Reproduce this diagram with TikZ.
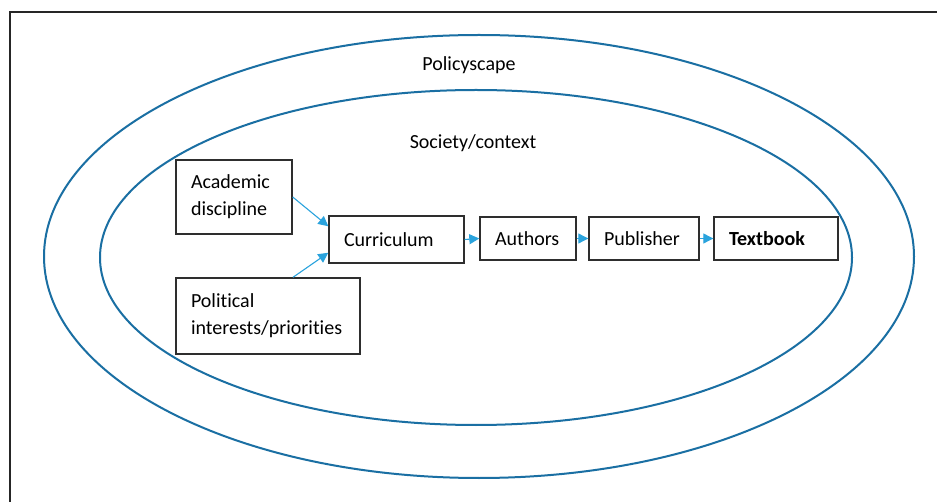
\documentclass[tikz,border=0pt]{standalone}
\usepackage{fontspec}
\setmainfont{Carlito}[Ligatures=NoCommon]
\usetikzlibrary{arrows.meta,calc}
\definecolor{ringblue}{HTML}{1A6FA3}
\definecolor{arrowblue}{HTML}{2AA3DD}
\definecolor{boxgrey}{HTML}{2E2E2E}
\tikzset{
  lbl/.style={font=\fontsize{20}{27}\selectfont},
  stagebox/.style={draw=boxgrey, line width=1.4pt, lbl, align=left,
    inner xsep=15pt, inner ysep=0pt, anchor=center},
  ring/.style={draw=ringblue, line width=2pt},
  flow/.style={draw=arrowblue, line width=1.1pt,
    -{Triangle[length=10pt,width=10pt]}},
}
\begin{document}
\begin{tikzpicture}[x=1pt,y=-1pt]
  \useasboundingbox (0,0) rectangle (937,502);
  \fill[white] (0,0) rectangle (937,502);

  % frame
  \draw[line width=2.6pt, draw=black!85] (10,502) -- (10,12) -- (937,12);

  % nested contexts
  \draw[ring] (479,256.5) ellipse [x radius=435pt, y radius=221.5pt];
  \draw[ring] (476,257.5) ellipse [x radius=376pt, y radius=167.5pt];
  \node[lbl] (policyscape) at (469,65) {Policyscape};
  \node[lbl] (society) at (473,143) {Society/context};

  % stages
  \node[stagebox, text width=86pt, minimum height=74pt] (acad) at (234,197)
    {Academic\\discipline};
  \node[stagebox, text width=154pt, minimum height=76pt] (pol) at (268,316)
    {Political\\interests/priorities};
  \node[stagebox, text width=105pt, minimum height=47pt] (curr) at (396.5,239.5)
    {Curriculum};
  \node[stagebox, text width=66pt, minimum height=43pt] (auth) at (528,238.5)
    {Authors};
  \node[stagebox, text width=80pt, minimum height=43pt] (pub) at (644,238.5)
    {Publisher};
  \node[stagebox, text width=94pt, minimum height=43pt] (book) at (776,238.5)
    {\textbf{Textbook}};

  % flows
  \draw[flow] (acad.east) -- (curr.169);
  \draw[flow] ($(pol.north)+(25,0)$) -- (curr.191);
  \draw[flow] (curr.east) -- (auth.west);
  \draw[flow] (auth.east) -- (pub.west);
  \draw[flow] (pub.east) -- (book.west);
\end{tikzpicture}
\end{document}
